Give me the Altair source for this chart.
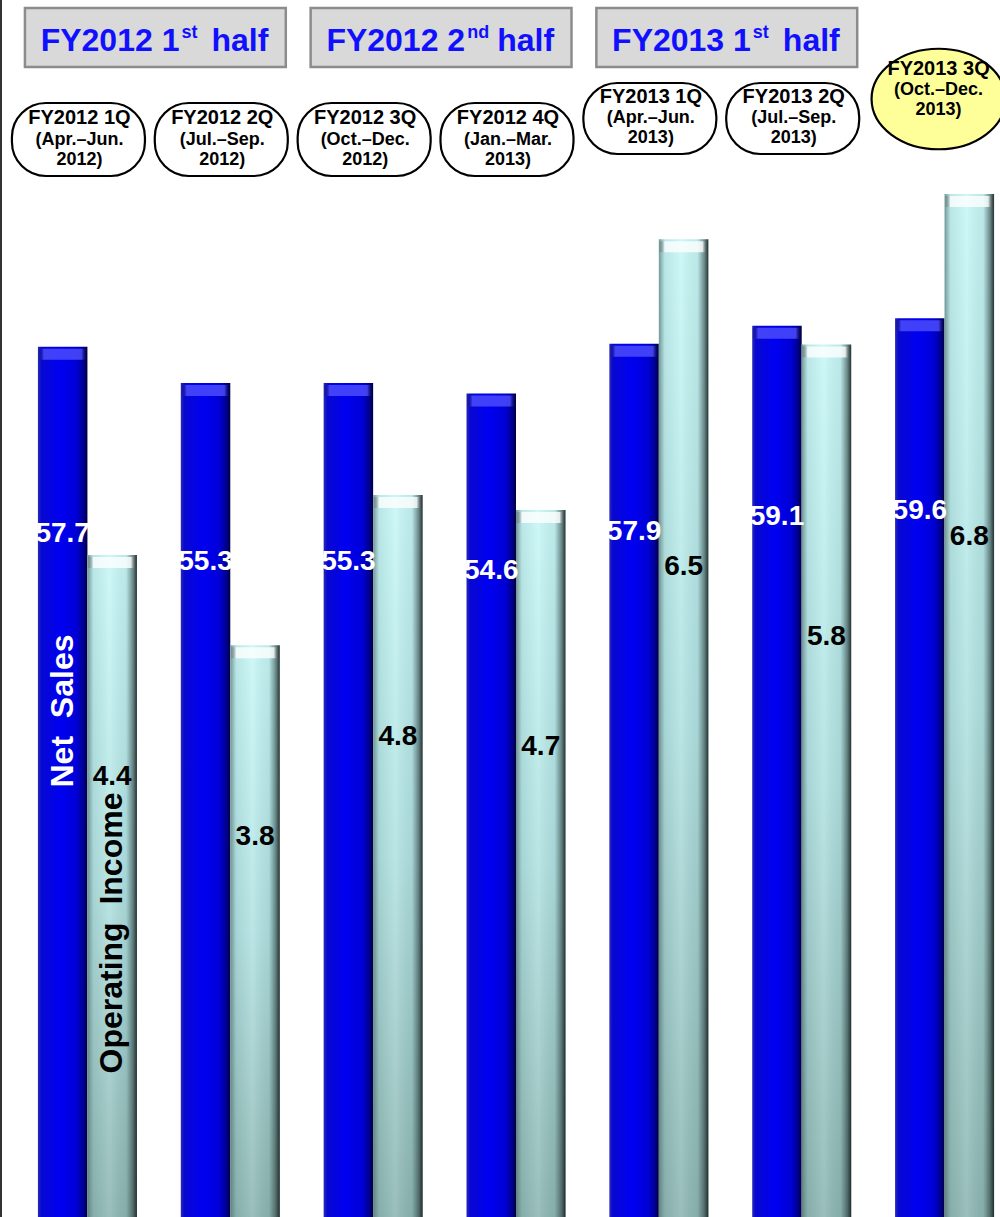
import altair as alt
import pandas as pd

# ---------------- data ----------------
quarters = ["FY2012 1Q", "FY2012 2Q", "FY2012 3Q", "FY2012 4Q",
            "FY2013 1Q", "FY2013 2Q", "FY2013 3Q"]
periods = ["(Apr.–Jun.\n2012)", "(Jul.–Sep.\n2012)", "(Oct.–Dec.\n2012)",
           "(Jan.–Mar.\n2013)", "(Apr.–Jun.\n2013)", "(Jul.–Sep.\n2013)",
           "(Oct.–Dec.\n2013)"]
net_sales = [57.7, 55.3, 55.3, 54.6, 57.9, 59.1, 59.6]
operating_income = [4.4, 3.8, 4.8, 4.7, 6.5, 5.8, 6.8]

half_main = ["FY2012 1", "FY2012 2", "FY2013 1"]
half_sup = ["st", "nd", "st"]
half_first = ["FY2012 1Q", "FY2012 3Q", "FY2013 1Q"]
half_last = ["FY2012 2Q", "FY2012 4Q", "FY2013 2Q"]

series_names = ["Net Sales", "Operating Income"]
series_titles = ["Net\u00a0\u00a0Sales", "Operating\u00a0\u00a0Income"]

W, H = 1000, 1217
FONT = "Liberation Sans, Arial, sans-serif"

ns_df = pd.DataFrame({"quarter": quarters, "series": series_names[0], "value": net_sales})
oi_df = pd.DataFrame({"quarter": quarters, "series": series_names[1], "value": operating_income})
pill_df = pd.DataFrame({"quarter": quarters, "period": periods})
half_df = pd.DataFrame({"first": half_first, "last": half_last,
                        "main": half_main, "sup": half_sup, "word": "half"})
title_df = pd.DataFrame({"quarter": quarters[0], "series": series_names, "title": series_titles})

# ---------------- scales ----------------
x_scale = alt.Scale(domain=quarters, range=[16, 1016], paddingInner=0.307, paddingOuter=0.1535)
xo_scale = alt.Scale(domain=series_names, paddingInner=0, paddingOuter=0)
ns_scale = alt.Scale(domain=[0, 80.7], nice=False, zero=True)
oi_scale = alt.Scale(domain=[0, 8.09], nice=False, zero=True)

X = alt.X("quarter:N", scale=x_scale, axis=None)
XO = alt.XOffset("series:N", scale=xo_scale)


def grad(stops, horizontal=True):
    return alt.Gradient(
        gradient="linear",
        stops=[alt.GradientStop(color=c, offset=o) for o, c in stops],
        x1=0, x2=1 if horizontal else 0, y1=0, y2=0 if horizontal else 1,
    )


blue_fill = grad([(0, "#2a2ab8"), (0.07, "#0808d0"), (0.45, "#0000f2"),
                  (0.78, "#0000d6"), (0.92, "#000090"), (1, "#000040")])
blue_lip = grad([(0, "rgba(0,0,0,0)"), (0.12, "rgba(80,80,255,0.8)"),
                 (0.88, "rgba(80,80,255,0.8)"), (1, "rgba(0,0,0,0)")])
cyan_fill = grad([(0, "#c8f7f7"), (0.5, "#b2e2e2"), (1, "#8db6b2")], horizontal=False)
cyan_shade = grad([(0, "rgba(70,100,100,0.65)"), (0.12, "rgba(80,110,110,0.12)"),
                   (0.45, "rgba(255,255,255,0.12)"), (0.78, "rgba(40,60,60,0.08)"),
                   (0.92, "rgba(30,45,45,0.55)"), (1, "rgba(20,28,28,0.9)")])
cyan_lip = grad([(0, "rgba(0,0,0,0)"), (0.12, "rgba(255,255,255,0.8)"),
                 (0.88, "rgba(255,255,255,0.8)"), (1, "rgba(0,0,0,0)")])

# ---------------- bars ----------------
ns_base = alt.Chart(ns_df).encode(x=X, xOffset=XO)
ns_bar = ns_base.mark_bar(fill=blue_fill).encode(
    y=alt.Y("value:Q", scale=ns_scale, axis=None))
ns_top = ns_base.mark_bar(fill=blue_lip, y2Offset=13, yOffset=2).encode(
    y=alt.Y("value:Q", scale=ns_scale, axis=None), y2="value:Q")
ns_lab = ns_base.transform_calculate(pos="datum.value * 0.785").mark_text(
    font=FONT, fontSize=28, fontWeight="bold", color="white", baseline="middle"
).encode(y=alt.Y("pos:Q", scale=ns_scale, axis=None), text=alt.Text("value:Q", format=".1f"))

oi_base = alt.Chart(oi_df).encode(x=X, xOffset=XO)
oi_bar = oi_base.mark_bar(fill=cyan_fill).encode(
    y=alt.Y("value:Q", scale=oi_scale, axis=None))
oi_shade = oi_base.mark_bar(fill=cyan_shade).encode(
    y=alt.Y("value:Q", scale=oi_scale, axis=None))
oi_top = oi_base.mark_bar(fill=cyan_lip, y2Offset=13, yOffset=2).encode(
    y=alt.Y("value:Q", scale=oi_scale, axis=None), y2="value:Q")
oi_lab = oi_base.transform_calculate(pos="datum.value * 0.665").mark_text(
    font=FONT, fontSize=28, fontWeight="bold", color="black", baseline="middle"
).encode(y=alt.Y("pos:Q", scale=oi_scale, axis=None), text=alt.Text("value:Q", format=".1f"))

# series titles, rotated, inside the first pair of bars
title_base = alt.Chart(title_df).encode(x=X, xOffset=XO, text="title:N")
ns_title = title_base.transform_filter(alt.datum.series == series_names[0]).mark_text(
    font=FONT, fontSize=32, fontWeight="bold", color="white", angle=270,
    baseline="middle", xOffset=5).encode(y=alt.value(711))
oi_title = title_base.transform_filter(alt.datum.series == series_names[1]).mark_text(
    font=FONT, fontSize=32, fontWeight="bold", color="black", angle=270,
    baseline="middle", xOffset=1).encode(y=alt.value(933))

# ---------------- header: half-year boxes ----------------
half_base = alt.Chart(half_df)
half_box = half_base.mark_rect(fill="#d9d9d9", stroke="#8c8c8c", strokeWidth=2.5,
                               xOffset=-13, x2Offset=6).encode(
    x=alt.X("first:N", scale=x_scale, axis=None, bandPosition=0),
    x2=alt.X2("last:N", bandPosition=1),
    y=alt.value(8), y2=alt.value(67))
hx = alt.X("first:N", scale=x_scale, axis=None)
BLUE_T = "#1010ff"
half_main_t = half_base.mark_text(font=FONT, fontSize=32, fontWeight="bold", color=BLUE_T,
                                  align="right", baseline="alphabetic", dx=92).encode(
    x=hx, y=alt.value(51), text="main:N")
half_sup_t = half_base.mark_text(font=FONT, fontSize=18, fontWeight="bold", color=BLUE_T,
                                 align="left", baseline="alphabetic", dx=94).encode(
    x=hx, y=alt.value(38), text="sup:N")
half_word_t = half_base.mark_text(font=FONT, fontSize=32, fontWeight="bold", color=BLUE_T,
                                  align="left", baseline="alphabetic", dx=124).encode(
    x=hx, y=alt.value(51), text="word:N")

# ---------------- header: quarter pills ----------------
pill_base = alt.Chart(pill_df).encode(x=X)
row_a = alt.FieldOneOfPredicate(field="quarter", oneOf=quarters[:4])
row_b = alt.FieldOneOfPredicate(field="quarter", oneOf=quarters[4:6])
row_c = alt.FieldOneOfPredicate(field="quarter", oneOf=quarters[6:])


def pill_rect(pred, y0, y1):
    return alt.Chart(pill_df).transform_filter(pred).mark_rect(
        fill="white", stroke="black", strokeWidth=2.2, cornerRadius=34,
        xOffset=-26, x2Offset=8).encode(
        x=alt.X("quarter:N", scale=x_scale, axis=None, bandPosition=0),
        x2=alt.X2("quarter:N", bandPosition=1),
        y=alt.value(y0), y2=alt.value(y1))


def pill_text(pred, y_head, y_period, dx):
    head = pill_base.transform_filter(pred).mark_text(
        font=FONT, fontSize=20, fontWeight="bold", color="black",
        baseline="middle", dx=dx).encode(y=alt.value(y_head), text="quarter:N")
    per = pill_base.transform_filter(pred).mark_text(
        font=FONT, fontSize=18, fontWeight="bold", color="black",
        baseline="middle", lineBreak="\n", lineHeight=20, dx=dx).encode(
        y=alt.value(y_period), text="period:N")
    return head + per


ellipse = pill_base.transform_filter(row_c).mark_point(
    shape="M-1,0A1,0.75,0,1,0,1,0A1,0.75,0,1,0,-1,0Z", size=134 * 134,
    filled=True, fill="#ffff99", stroke="black", strokeWidth=2.2, opacity=1,
    xOffset=-6).encode(y=alt.value(99))

border = alt.Chart(pill_df).mark_rule(color="#333333", strokeWidth=2).encode(
    x=alt.value(1), y=alt.value(0), y2=alt.value(H))

chart = alt.layer(
    border,
    half_box, half_main_t, half_sup_t, half_word_t,
    pill_rect(row_a, 103, 176), pill_rect(row_b, 83, 154), ellipse,
    pill_text(row_a, 118, 140, -8), pill_text(row_b, 97, 118, -8), pill_text(row_c, 69, 90, -6),
    ns_bar, ns_top, oi_bar, oi_shade, oi_top,
    ns_lab, oi_lab, ns_title, oi_title,
).resolve_scale(y="independent").properties(
    width=W, height=H, padding=0, autosize=alt.AutoSizeParams(type="none"),
    background="white",
).configure_view(stroke=None)

chart.save("out.html", embed_options={"renderer": "svg", "actions": False})
